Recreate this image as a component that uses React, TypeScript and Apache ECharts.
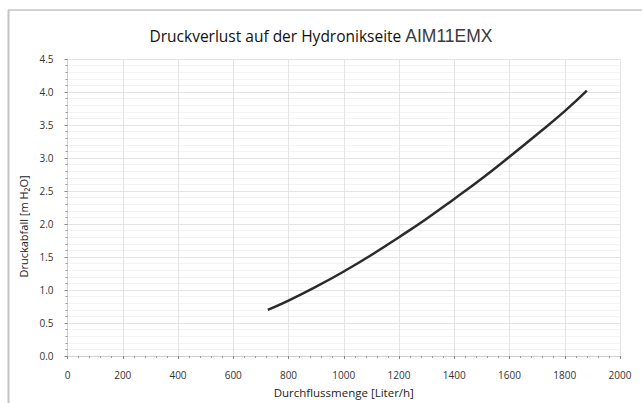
import React, { useEffect, useRef } from "react";
import * as echarts from "echarts";

// Durchfluss (Liter/h) und zugehöriger Druckabfall (m H2O)
const flowRates = [725, 800, 900, 1000, 1100, 1200, 1300, 1400, 1500, 1600, 1700, 1800, 1880];
const pressureDrop = [0.7, 0.84, 1.05, 1.28, 1.53, 1.8, 2.08, 2.38, 2.69, 3.02, 3.36, 3.71, 4.02];

const titleMain = "Druckverlust auf der Hydronikseite ";
const modelName = "AIM11EMX";
const xAxisName = "Durchflussmenge [Liter/h]";
const yAxisName = "Druckabfall [m H\u2082O]";

const FONT = "'Open Sans', 'Liberation Sans', sans-serif";

export default function App() {
  const ref = useRef<HTMLDivElement>(null);

  useEffect(() => {
    if (!ref.current) return;
    const chart = echarts.init(ref.current, undefined, { renderer: "svg" });
    chart.setOption({
      animation: false,
      backgroundColor: "#ffffff",
      title: {
        text: `{a|${titleMain}}{b|${modelName}}`,
        left: "center",
        top: 22,
        textStyle: {
          fontWeight: "normal",
          rich: {
            a: { fontFamily: FONT, fontSize: 15.5, fontWeight: "normal", color: "#111111" },
            b: {
              fontFamily: "'Liberation Sans', Arial, sans-serif",
              fontSize: 17.5,
              fontWeight: "normal",
              color: "#3a3a3a",
            },
          },
        },
      },
      graphic: [
        {
          type: "line",
          shape: { x1: 8.5, y1: 10, x2: 8.5, y2: 403 },
          style: { stroke: "#c4c4c4", lineWidth: 2 },
          silent: true,
        },
        {
          type: "line",
          shape: { x1: 8, y1: 10, x2: 642, y2: 10 },
          style: { stroke: "#c4c4c4", lineWidth: 1.5 },
          silent: true,
        },
      ],
      grid: { left: 67.5, right: 22, top: 59, bottom: 44 },
      xAxis: {
        type: "value",
        min: 0,
        max: 2000,
        interval: 200,
        name: xAxisName,
        nameLocation: "middle",
        nameGap: 30,
        nameTextStyle: { fontFamily: FONT, fontSize: 11.5, color: "#222222" },
        axisLine: { show: true, lineStyle: { color: "#d0d0d0", width: 1 } },
        axisTick: { show: true, length: 3, lineStyle: { color: "#888888" } },
        minorTick: { show: true, splitNumber: 5, length: 2, lineStyle: { color: "#999999" } },
        axisLabel: {
          fontFamily: FONT,
          fontSize: 10,
          color: "#333333",
          margin: 14,
          formatter: (v: number) => String(v),
        },
        splitLine: { show: true, lineStyle: { color: "#e4e4e4", width: 1 } },
      },
      yAxis: {
        type: "value",
        min: 0,
        max: 4.5,
        interval: 0.5,
        name: yAxisName,
        nameLocation: "middle",
        nameGap: 34,
        nameTextStyle: {
          fontFamily: FONT,
          fontSize: 11,
          color: "#222222",
          padding: [0, 38, 0, 0],
        },
        axisLine: { show: true, lineStyle: { color: "#d0d0d0", width: 1 } },
        axisTick: { show: true, length: 3, lineStyle: { color: "#888888" } },
        minorTick: { show: true, splitNumber: 5, length: 2, lineStyle: { color: "#999999" } },
        axisLabel: {
          fontFamily: FONT,
          fontSize: 10,
          color: "#333333",
          margin: 14,
          formatter: (v: number) => v.toFixed(1),
        },
        splitLine: { show: true, lineStyle: { color: "#e4e4e4", width: 1 } },
        minorSplitLine: { show: true, lineStyle: { color: "#f3f3f3", width: 1 } },
      },
      series: [
        {
          type: "line",
          data: flowRates.map((q, i) => [q, pressureDrop[i]]),
          smooth: true,
          showSymbol: false,
          lineStyle: { color: "#2b2b2b", width: 2.5 },
        },
      ],
    });
    return () => chart.dispose();
  }, []);

  return (
    <div
      ref={ref}
      style={{ position: "absolute", left: 0, top: 0, width: 642, height: 403 }}
    />
  );
}
